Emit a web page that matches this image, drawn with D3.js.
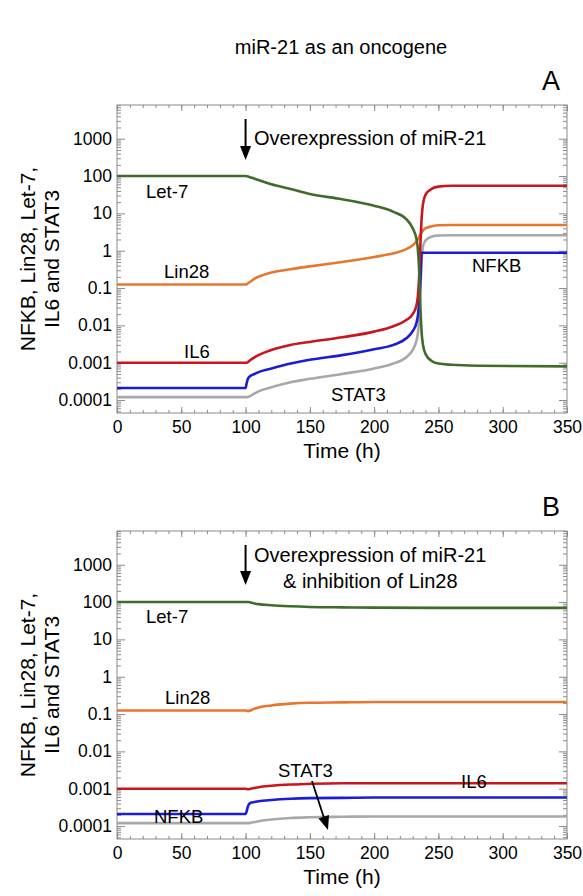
<!DOCTYPE html>
<html>
<head>
<meta charset="utf-8">
<script src="https://cdn.jsdelivr.net/npm/d3@7"></script>
<style>
  body { margin: 0; background: #fff; }
  svg { display: block; font-family: "Liberation Sans", Arial, sans-serif; }
  .axis path { stroke: none; }
  .axis line { stroke: #8a8a8a; }
  .axis text { font-size: 17.5px; fill: #000; }
  .frame { fill: none; stroke: #8a8a8a; stroke-width: 1; }
  .curve { fill: none; stroke-width: 2.6; stroke-linejoin: round; }
  .lbl { font-size: 18.5px; fill: #000; }
  .note { font-size: 20px; fill: #000; }
  .title { font-size: 20px; fill: #000; text-anchor: middle; }
  .axTitle { font-size: 21px; fill: #000; text-anchor: middle; }
  .panel { font-size: 27px; fill: #000; text-anchor: middle; }
</style>
</head>
<body>
<script>
// ---- data ----
var seriesNames  = ["Let-7", "Lin28", "IL6", "NFKB", "STAT3"];
var seriesColors = ["#3f6c2b", "#e8772e", "#c8161d", "#1c1cd6", "#a8a8a8"];

// panel A: overexpression of miR-21
var timeA  = [0, 100, 101, 102, 104, 107, 110, 120, 135, 150, 175, 200, 215, 225, 230, 233, 234, 235, 236, 237, 238, 240, 245, 250, 260, 280, 350];
var let7A  = [100, 100, 99, 97, 92, 85, 78, 60, 45, 33, 24, 16, 11, 7, 4, 2, 1.1, 0.3, 0.03, 0.006, 0.003, 0.0017, 0.0011, 0.00095, 0.00088, 0.00083, 0.0008];
var lin28A = [0.125, 0.125, 0.127, 0.135, 0.15, 0.18, 0.2, 0.26, 0.32, 0.38, 0.5, 0.68, 0.85, 1.1, 1.4, 1.8, 2.0, 2.3, 2.7, 3.1, 3.5, 4.0, 4.5, 4.8, 4.9, 4.9, 4.9];
var il6A   = [0.001, 0.001, 0.001, 0.00105, 0.0012, 0.0014, 0.0016, 0.0022, 0.003, 0.0036, 0.0048, 0.0068, 0.0095, 0.014, 0.02, 0.035, 0.06, 0.2, 1.5, 8, 18, 32, 46, 52, 55, 55, 55];
var nfkbA  = [0.00021, 0.00021, 0.0003, 0.00038, 0.00045, 0.0005, 0.00056, 0.0007, 0.00095, 0.0012, 0.0016, 0.0023, 0.003, 0.0045, 0.007, 0.012, 0.018, 0.04, 0.15, 0.88, 0.88, 0.88, 0.88, 0.88, 0.88, 0.88, 0.88];
var stat3A = [0.00012, 0.00012, 0.00012, 0.000122, 0.00013, 0.00015, 0.00017, 0.00022, 0.0003, 0.00037, 0.0005, 0.0007, 0.00095, 0.0014, 0.0022, 0.004, 0.006, 0.015, 0.1, 0.6, 1.3, 1.9, 2.4, 2.55, 2.6, 2.6, 2.6];

// panel B: overexpression of miR-21 & inhibition of Lin28
var timeB  = [0, 100, 102, 104, 107, 110, 120, 135, 150, 175, 200, 250, 350];
var let7B  = [100, 100, 100, 97, 92, 88, 82, 77, 74, 72, 71, 70, 70];
var lin28B = [0.125, 0.125, 0.12, 0.125, 0.14, 0.15, 0.17, 0.19, 0.2, 0.205, 0.21, 0.21, 0.21];
var il6B   = [0.001, 0.001, 0.00097, 0.001, 0.00105, 0.0011, 0.0012, 0.0013, 0.00135, 0.0014, 0.0014, 0.0014, 0.0014];
var nfkbB  = [0.00021, 0.00021, 0.00035, 0.00042, 0.00044, 0.00046, 0.0005, 0.00054, 0.00056, 0.00057, 0.00058, 0.00058, 0.00058];
var stat3B = [0.00012, 0.00012, 0.00012, 0.000122, 0.000128, 0.000135, 0.00015, 0.000165, 0.000172, 0.000177, 0.00018, 0.00018, 0.00018];

// ticks
var xMajor = [0, 50, 100, 150, 200, 250, 300, 350];
var xMinor = d3.range(0, 351, 10);
var yMajor = [0.0001, 0.001, 0.01, 0.1, 1, 10, 100, 1000];
var yTickLabels = ["0.0001", "0.001", "0.01", "0.1", "1", "10", "100", "1000"];
var yDomain = [4.5e-5, 8e3];

// ---- layout ----
var width = 583, height = 896;
var plotLeft = 117, plotRight = 567, plotH = 308;

var svg = d3.select("body").append("svg")
  .attr("width", width)
  .attr("height", height);

svg.append("text").attr("class", "title")
  .attr("x", 341).attr("y", 54)
  .text("miR-21 as an oncogene");

var yMinor = [];
for (var e = -5; e <= 3; e++) {
  for (var m = 2; m <= 9; m++) {
    var v = m * Math.pow(10, e);
    if (v >= yDomain[0] && v <= yDomain[1]) yMinor.push(v);
  }
}

function drawPanel(top, letter, time, values) {
  var x = d3.scaleLinear().domain([0, 350]).range([plotLeft, plotRight]);
  var y = d3.scaleLog().domain(yDomain).range([top + plotH, top]);
  var g = svg.append("g");

  // minor ticks, all four sides, pointing inward
  g.append("g").attr("class", "axis")
    .attr("transform", "translate(0," + (top + plotH) + ")")
    .call(d3.axisBottom(x).tickValues(xMinor).tickSize(-3).tickFormat(""));
  g.append("g").attr("class", "axis")
    .attr("transform", "translate(0," + top + ")")
    .call(d3.axisTop(x).tickValues(xMinor).tickSize(-3).tickFormat(""));
  g.append("g").attr("class", "axis")
    .attr("transform", "translate(" + plotLeft + ",0)")
    .call(d3.axisLeft(y).tickValues(yMinor).tickSize(-4).tickFormat(""));
  g.append("g").attr("class", "axis")
    .attr("transform", "translate(" + plotRight + ",0)")
    .call(d3.axisRight(y).tickValues(yMinor).tickSize(-4).tickFormat(""));

  // major ticks
  g.append("g").attr("class", "axis")
    .attr("transform", "translate(0," + (top + plotH) + ")")
    .call(d3.axisBottom(x).tickValues(xMajor).tickSize(-6).tickPadding(8).tickFormat(d3.format("d")));
  g.append("g").attr("class", "axis")
    .attr("transform", "translate(0," + top + ")")
    .call(d3.axisTop(x).tickValues(xMajor).tickSize(-6).tickFormat(""));
  g.append("g").attr("class", "axis")
    .attr("transform", "translate(" + plotLeft + ",0)")
    .call(d3.axisLeft(y).tickValues(yMajor).tickSize(-8).tickPadding(5)
      .tickFormat(function(d, i) { return yTickLabels[i]; }));
  g.append("g").attr("class", "axis")
    .attr("transform", "translate(" + plotRight + ",0)")
    .call(d3.axisRight(y).tickValues(yMajor).tickSize(-8).tickFormat(""));

  g.append("rect").attr("class", "frame")
    .attr("x", plotLeft).attr("y", top)
    .attr("width", plotRight - plotLeft).attr("height", plotH);

  // curves
  var line = d3.line()
    .x(function(d) { return x(d[0]); })
    .y(function(d) { return y(d[1]); })
    .curve(d3.curveMonotoneX);

  var clipId = "clip" + letter;
  svg.append("clipPath").attr("id", clipId).append("rect")
    .attr("x", plotLeft).attr("y", top).attr("width", plotRight - plotLeft).attr("height", plotH);

  // draw in reverse so Let-7 sits on top like the original
  var order = [4, 3, 1, 2, 0];
  g.append("g").attr("clip-path", "url(#" + clipId + ")")
    .selectAll("path").data(order).enter().append("path")
    .attr("class", "curve")
    .attr("stroke", function(k) { return seriesColors[k]; })
    .attr("d", function(k) { return line(time.map(function(t, i) { return [t, values[k][i]]; })); });

  // axis titles
  g.append("text").attr("class", "axTitle")
    .attr("x", 342).attr("y", top + plotH + 45)
    .text("Time (h)");
  var yl = g.append("text").attr("class", "axTitle")
    .attr("transform", "translate(35," + (top + plotH / 2) + ") rotate(-90)");
  yl.append("tspan").attr("x", 0).attr("y", 0).text("NFKB, Lin28, Let-7,");
  yl.append("tspan").attr("x", 0).attr("y", 24).text("IL6 and STAT3");

  g.append("text").attr("class", "panel")
    .attr("x", 551).attr("y", top - 15)
    .text(letter);

  return { g: g, x: x, y: y };
}

// arrow marking the start of treatment at t = 100
function arrowDown(g, x0, y0, y1) {
  g.append("line").attr("x1", x0).attr("x2", x0).attr("y1", y0).attr("y2", y1 - 10)
    .attr("stroke", "#000").attr("stroke-width", 2);
  g.append("path").attr("d", "M" + (x0 - 5.5) + "," + (y1 - 14) + "L" + (x0 + 5.5) + "," + (y1 - 14) + "L" + x0 + "," + y1 + "Z")
    .attr("fill", "#000");
}

var topA = 105, topB = 531;

var pA = drawPanel(topA, "A", timeA, [let7A, lin28A, il6A, nfkbA, stat3A]);
arrowDown(pA.g, pA.x(100), topA + 14, topA + 55);
pA.g.append("text").attr("class", "note").attr("x", 254).attr("y", topA + 40).text("Overexpression of miR-21");
pA.g.append("text").attr("class", "lbl").attr("x", 146).attr("y", 198).text("Let-7");
pA.g.append("text").attr("class", "lbl").attr("x", 164).attr("y", 278).text("Lin28");
pA.g.append("text").attr("class", "lbl").attr("x", 184).attr("y", 358).text("IL6");
pA.g.append("text").attr("class", "lbl").attr("x", 331).attr("y", 401).text("STAT3");
pA.g.append("text").attr("class", "lbl").attr("x", 472).attr("y", 272).text("NFKB");

var pB = drawPanel(topB, "B", timeB, [let7B, lin28B, il6B, nfkbB, stat3B]);
arrowDown(pB.g, pB.x(100), topB + 14, topB + 54);
pB.g.append("text").attr("class", "note").attr("x", 254).attr("y", topB + 31).text("Overexpression of miR-21");
pB.g.append("text").attr("class", "note").attr("x", 283).attr("y", topB + 57).text("& inhibition of Lin28");
pB.g.append("text").attr("class", "lbl").attr("x", 146).attr("y", 623).text("Let-7");
pB.g.append("text").attr("class", "lbl").attr("x", 165).attr("y", 704).text("Lin28");
pB.g.append("text").attr("class", "lbl").attr("x", 278).attr("y", 777).text("STAT3");
pB.g.append("text").attr("class", "lbl").attr("x", 461).attr("y", 788).text("IL6");
pB.g.append("text").attr("class", "lbl").attr("x", 154).attr("y", 823).text("NFKB");
// pointer from STAT3 label to its curve
pB.g.append("line").attr("x1", 312).attr("y1", 781).attr("x2", 324).attr("y2", 818)
  .attr("stroke", "#000").attr("stroke-width", 1.8);
pB.g.append("path").attr("d", "M318.5,818.5 L329,815 L328,830 Z").attr("fill", "#000");
</script>
</body>
</html>
